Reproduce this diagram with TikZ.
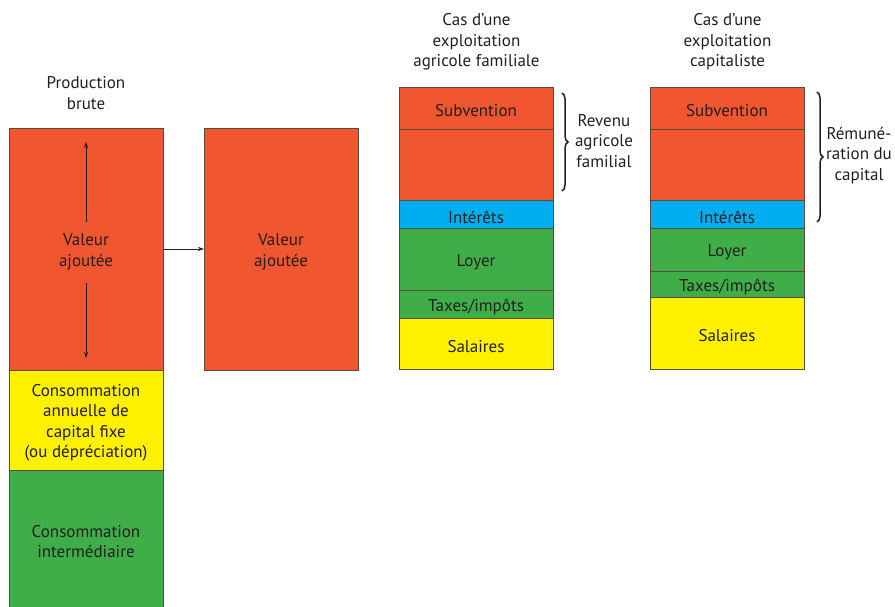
\documentclass[tikz,border=0pt]{standalone}
\usepackage{fontspec}
\setmainfont{PT Sans}
\usetikzlibrary{arrows.meta,decorations.pathreplacing}
\definecolor{cred}{HTML}{F05630}
\definecolor{cyel}{HTML}{FFF100}
\definecolor{cgrn}{HTML}{3FAE49}
\definecolor{cblu}{HTML}{00AEEF}
\definecolor{ctxt}{HTML}{231F20}
\definecolor{cedge}{HTML}{5A4A40}
\begin{document}
\begin{tikzpicture}[x=1pt,y=-1pt,
  font=\fontsize{17}{20.5}\selectfont, text=ctxt,
  box/.style={draw=cedge, line width=0.5pt, anchor=north west, inner sep=0pt, outer sep=0pt, minimum width=154pt},
  lbl/.style={align=center, inner sep=0pt, yshift=-3pt},
  txt/.style={label={[lbl]center:{#1}}},
  hdr/.style={align=center, inner sep=0pt},
  arr/.style={-{Stealth[length=6pt,width=4pt]}, line width=0.8pt, draw=ctxt},
  brc/.style={decorate, decoration={brace, amplitude=6pt}, line width=1.5pt, draw=ctxt}]
\useasboundingbox (0,0) rectangle (895,607);
% column 1
\node[box, fill=cred, minimum height=242pt, txt={Valeur\\ajoutée}] (va1) at (9,128) {};
\node[box, fill=cyel, minimum height=100pt, txt={Consommation\\annuelle de\\capital fixe\\(ou dépréciation)}] (cf) at (9,370) {};
\node[box, fill=cgrn, minimum height=137pt, txt={Consommation\\intermédiaire}] (ci) at (9,470) {};
\node[hdr] (h1) at (86,93) {Production\\brute};
\coordinate (a1s) at (86,222);
\coordinate (a1e) at (86,142);
\coordinate (a2s) at (86,283);
\coordinate (a2e) at (86,358);
\draw[arr] (a1s) -- (a1e);
\draw[arr] (a2s) -- (a2e);
% column 2
\node[box, fill=cred, minimum height=242pt, txt={Valeur\\ajoutée}] (va2) at (204,128) {};
\draw[arr] (va1.east) -- (va2.west);
% column 3
\node[box, fill=cred, minimum height=42pt, txt={Subvention}] (sub3) at (399,87) {};
\node[box, fill=cred, minimum height=71pt] (rf3) at (399,129) {};
\node[box, fill=cblu, minimum height=28pt, txt={Intérêts}] (int3) at (399,200) {};
\node[box, fill=cgrn, minimum height=62pt, txt={Loyer}] (loy3) at (399,228) {};
\node[box, fill=cgrn, minimum height=28pt, txt={Taxes/impôts}] (tax3) at (399,290) {};
\node[box, fill=cyel, minimum height=51pt, txt={Salaires}] (sal3) at (399,318) {};
\node[hdr] (h3) at (476.5,42) {Cas d’une\\exploitation\\agricole familiale};
\coordinate (b3t) at (562,93);
\coordinate (b3b) at (562,191);
\draw[brc] (b3t) -- (b3b);
\node[hdr] (r3) at (604,141) {Revenu\\agricole\\familial};
% column 4
\node[box, fill=cred, minimum height=42pt, txt={Subvention}] (sub4) at (650,87) {};
\node[box, fill=cred, minimum height=71pt] (rf4) at (650,129) {};
\node[box, fill=cblu, minimum height=28pt, txt={Intérêts}] (int4) at (650,200) {};
\node[box, fill=cgrn, minimum height=43pt, txt={Loyer}] (loy4) at (650,228) {};
\node[box, fill=cgrn, minimum height=26pt, txt={Taxes/impôts}] (tax4) at (650,271) {};
\node[box, fill=cyel, minimum height=72pt, txt={Salaires}] (sal4) at (650,297) {};
\node[hdr] (h4) at (727.5,42) {Cas d’une\\exploitation\\capitaliste};
\coordinate (b4t) at (817,92);
\coordinate (b4b) at (817,222);
\draw[brc] (b4t) -- (b4b);
\node[hdr] (r4) at (859,155.5) {Rémuné-\\ration du\\capital};
\end{tikzpicture}
\end{document}
